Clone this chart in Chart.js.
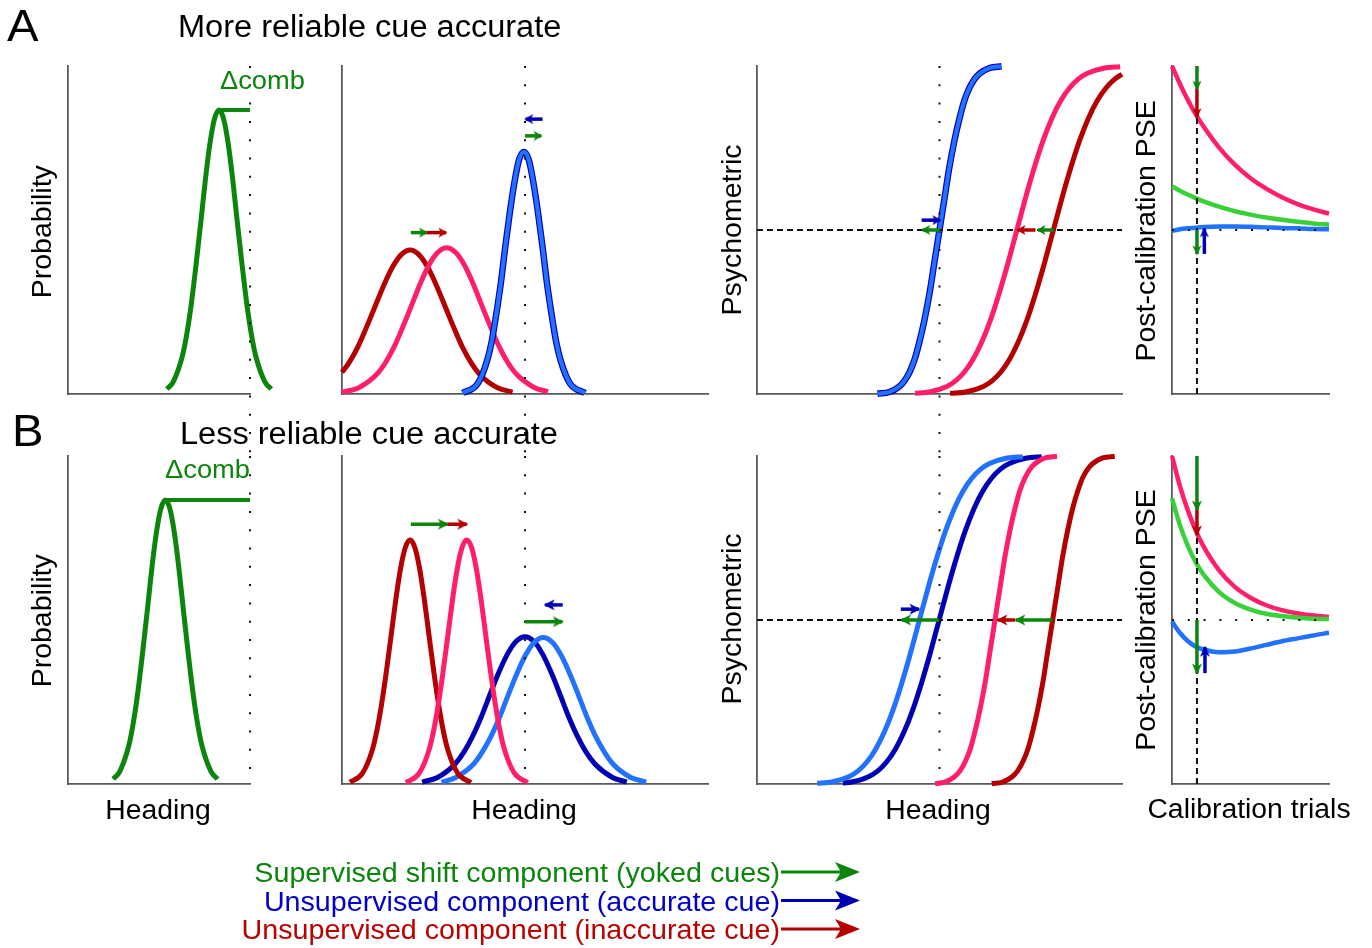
<!DOCTYPE html>
<html>
<head>
<meta charset="utf-8">
<script src="https://cdn.jsdelivr.net/npm/chart.js@4.4.1/dist/chart.umd.min.js"></script>
<style>
html,body{margin:0;padding:0;background:#fff;}
body{width:1372px;height:948px;position:relative;overflow:hidden;}
canvas{position:absolute;}
#txt{position:absolute;left:0;top:0;z-index:5;}
</style>
</head>
<body>
<svg id="txt" width="1372" height="948" font-family="Liberation Sans, Arial, sans-serif" fill="#000">
  <text transform="translate(7,41) scale(1.05,1)" font-size="45">A</text>
  <text transform="translate(178,37) scale(1.05,1)" font-size="31">More reliable cue accurate</text>
  <text transform="translate(12,446) scale(1.05,1)" font-size="45">B</text>
  <text transform="translate(180,444) scale(1.05,1)" font-size="31">Less reliable cue accurate</text>
  <text transform="translate(220,89) scale(1.05,1)" font-size="26" fill="#0b850b">Δcomb</text>
  <text transform="translate(250,478) scale(1.05,1)" font-size="26" fill="#0b850b" text-anchor="end">Δcomb</text>
  <text transform="translate(51,231.7) rotate(-90)" font-size="28.5" text-anchor="middle">Probability</text>
  <text transform="translate(51,620.8) rotate(-90)" font-size="28.5" text-anchor="middle">Probability</text>
  <text transform="translate(741,230) rotate(-90)" font-size="28.5" text-anchor="middle">Psychometric</text>
  <text transform="translate(741,619) rotate(-90)" font-size="28.5" text-anchor="middle">Psychometric</text>
  <text transform="translate(1155,230.8) rotate(-90)" font-size="28.5" text-anchor="middle">Post-calibration PSE</text>
  <text transform="translate(1155,620) rotate(-90)" font-size="28.5" text-anchor="middle">Post-calibration PSE</text>
  <text transform="translate(158,819) scale(1.05,1)" font-size="27" text-anchor="middle">Heading</text>
  <text transform="translate(524,819) scale(1.05,1)" font-size="27" text-anchor="middle">Heading</text>
  <text transform="translate(938,819) scale(1.05,1)" font-size="27" text-anchor="middle">Heading</text>
  <text transform="translate(1249,818) scale(1.05,1)" font-size="27" text-anchor="middle">Calibration trials</text>
  <text transform="translate(780,882) scale(1.05,1)" font-size="27.3" text-anchor="end" fill="#0b850b">Supervised shift component (yoked cues)</text>
  <text transform="translate(780,910.5) scale(1.05,1)" font-size="27.3" text-anchor="end" fill="#0000c8">Unsupervised component (accurate cue)</text>
  <text transform="translate(780,939) scale(1.05,1)" font-size="27.3" text-anchor="end" fill="#bb0000">Unsupervised component (inaccurate cue)</text>
  <g stroke-width="3">
    <line x1="781" y1="872" x2="842" y2="872" stroke="#0b850b"/>
    <polygon points="860,872 835,862 841,872 835,882" fill="#0b850b"/>
    <line x1="781" y1="900.5" x2="842" y2="900.5" stroke="#0000b4"/>
    <polygon points="860,900.5 835,890.5 841,900.5 835,910.5" fill="#0000b4"/>
    <line x1="781" y1="929" x2="842" y2="929" stroke="#b40000"/>
    <polygon points="860,929 835,919 841,929 835,939" fill="#b40000"/>
  </g>
</svg>
<script>
// ---------------- DATA (heading units 0-100, probability / proportion 0-1) ----------------
// Panel 1: combined estimate
const A1_comb = [[54.4,0.015],[57.9,0.038],[62.9,0.117],[65.4,0.187],[67.9,0.281],[70.4,0.396],[73.0,0.525],[75.5,0.654],[78.0,0.764],[80.5,0.839],[83.0,0.866],[85.5,0.839],[88.0,0.764],[90.5,0.654],[93.0,0.525],[95.6,0.396],[98.1,0.281],[100.6,0.187],[103.1,0.117],[108.1,0.038],[111.6,0.015]];
const A1_delta = [[83.0,0.866],[100,0.866]];
const B1_comb = [[24.9,0.015],[28.4,0.038],[33.4,0.117],[35.9,0.187],[38.4,0.281],[40.9,0.396],[43.5,0.525],[46.0,0.654],[48.5,0.764],[51.0,0.839],[53.5,0.866],[56.0,0.839],[58.5,0.764],[61.0,0.654],[63.5,0.525],[66.1,0.396],[68.6,0.281],[71.1,0.187],[73.6,0.117],[78.6,0.038],[82.1,0.015]];
const B1_delta = [[53.5,0.866],[100,0.866]];

// Panel 2: cue likelihoods
const A2_inaccPre = [[0.0,0.066],[1.9,0.095],[4.3,0.143],[6.6,0.201],[9.0,0.266],[11.4,0.331],[13.8,0.387],[16.2,0.425],[18.6,0.439],[21.0,0.425],[23.4,0.387],[25.8,0.331],[28.2,0.266],[30.6,0.201],[32.9,0.143],[35.3,0.095],[37.7,0.059],[42.5,0.019],[46.6,0.006]];
const A2_inaccPost = [[0.0,0.005],[4.7,0.020],[9.5,0.060],[11.9,0.096],[14.3,0.145],[16.6,0.204],[19.0,0.270],[21.4,0.337],[23.8,0.394],[26.2,0.432],[28.6,0.446],[31.0,0.432],[33.4,0.394],[35.8,0.337],[38.2,0.270],[40.6,0.204],[42.9,0.145],[45.3,0.096],[47.7,0.060],[52.5,0.020],[56.3,0.007]];
const A2_acc = [[33.0,0.003],[37.1,0.032],[39.6,0.100],[40.9,0.160],[42.1,0.240],[43.4,0.338],[44.6,0.448],[45.9,0.557],[47.2,0.651],[48.4,0.715],[49.7,0.738],[51.0,0.715],[52.2,0.651],[53.5,0.557],[54.8,0.448],[56.0,0.338],[57.3,0.240],[58.5,0.160],[59.8,0.100],[62.3,0.032],[66.4,0.003]];
const B2_inaccPre = [[2.2,0.005],[5.6,0.033],[8.2,0.101],[9.5,0.161],[10.8,0.242],[12.1,0.341],[13.4,0.451],[14.7,0.562],[16.0,0.657],[17.3,0.721],[18.6,0.744],[19.9,0.721],[21.2,0.657],[22.5,0.562],[23.8,0.451],[25.1,0.341],[26.4,0.242],[27.7,0.161],[29.0,0.101],[31.6,0.033],[35.2,0.004]];
const B2_inaccPost = [[17.5,0.004],[21.1,0.033],[23.7,0.101],[25.0,0.161],[26.3,0.242],[27.6,0.341],[28.9,0.451],[30.2,0.562],[31.5,0.657],[32.8,0.721],[34.1,0.744],[35.4,0.721],[36.7,0.657],[38.0,0.562],[39.3,0.451],[40.6,0.341],[41.9,0.242],[43.2,0.161],[44.5,0.101],[47.1,0.033],[50.7,0.004]];
const B2_accPre = [[21.9,0.006],[26.1,0.020],[30.9,0.061],[33.3,0.097],[35.7,0.146],[38.1,0.206],[40.4,0.272],[42.8,0.339],[45.2,0.396],[47.6,0.435],[50.0,0.449],[52.4,0.435],[54.8,0.396],[57.2,0.339],[59.6,0.272],[61.9,0.206],[64.3,0.146],[66.7,0.097],[69.1,0.061],[73.9,0.020],[77.8,0.006]];
const B2_accPost = [[27.2,0.005],[31.1,0.020],[35.9,0.060],[38.3,0.097],[40.7,0.145],[43.1,0.205],[45.4,0.271],[47.8,0.337],[50.2,0.394],[52.6,0.433],[55.0,0.447],[57.4,0.433],[59.8,0.394],[62.2,0.337],[64.6,0.271],[66.9,0.205],[69.3,0.145],[71.7,0.097],[74.1,0.060],[78.9,0.020],[83.1,0.006]];

// Panel 3: psychometric functions
const A3_acc = [[33.0,0.001],[36.3,0.006],[39.0,0.023],[40.4,0.040],[41.8,0.067],[43.2,0.106],[44.5,0.159],[45.9,0.227],[47.3,0.309],[48.6,0.401],[50.0,0.500],[51.4,0.599],[52.7,0.691],[54.1,0.773],[55.5,0.841],[56.8,0.894],[58.2,0.933],[59.6,0.960],[61.0,0.977],[63.7,0.994],[67.0,0.999]];
const A3_inaccPost = [[43.3,0.002],[47.2,0.006],[52.0,0.023],[54.4,0.040],[56.8,0.067],[59.2,0.106],[61.6,0.159],[64.0,0.227],[66.4,0.309],[68.8,0.401],[71.2,0.500],[73.6,0.599],[76.0,0.691],[78.4,0.773],[80.8,0.841],[83.2,0.894],[85.6,0.933],[88.0,0.960],[90.4,0.977],[95.2,0.994],[99.5,0.998]];
const A3_inaccPre = [[52.9,0.002],[57.2,0.006],[62.0,0.023],[64.4,0.040],[66.8,0.067],[69.2,0.106],[71.6,0.159],[74.0,0.227],[76.4,0.309],[78.8,0.401],[81.2,0.500],[83.6,0.599],[86.0,0.691],[88.4,0.773],[90.8,0.841],[93.2,0.894],[95.6,0.933],[98.0,0.960],[100.0,0.975]];
const B3_accPost = [[16.5,0.002],[20.5,0.006],[25.3,0.023],[27.7,0.040],[30.1,0.067],[32.5,0.106],[34.9,0.159],[37.3,0.227],[39.7,0.309],[42.1,0.401],[44.5,0.500],[46.9,0.599],[49.3,0.691],[51.7,0.773],[54.1,0.841],[56.5,0.894],[58.9,0.933],[61.3,0.960],[63.7,0.977],[68.5,0.994],[72.8,0.998]];
const B3_accPre = [[23.5,0.003],[25.9,0.006],[30.7,0.023],[33.1,0.040],[35.5,0.067],[37.9,0.106],[40.3,0.159],[42.7,0.227],[45.1,0.309],[47.5,0.401],[49.9,0.500],[52.3,0.599],[54.7,0.691],[57.1,0.773],[59.5,0.841],[61.9,0.894],[64.3,0.933],[66.7,0.960],[69.1,0.977],[73.9,0.994],[78.0,0.998]];
const B3_inaccPost = [[48.8,0.001],[51.5,0.006],[54.2,0.023],[55.6,0.040],[57.0,0.067],[58.4,0.106],[59.7,0.159],[61.1,0.227],[62.5,0.309],[63.8,0.401],[65.2,0.500],[66.6,0.599],[67.9,0.691],[69.3,0.773],[70.7,0.841],[72.0,0.894],[73.4,0.933],[74.8,0.960],[76.2,0.977],[78.9,0.994],[82.2,0.999]];
const B3_inaccPre = [[64.3,0.001],[67.3,0.006],[70.0,0.023],[71.4,0.040],[72.8,0.067],[74.2,0.106],[75.5,0.159],[76.9,0.227],[78.3,0.309],[79.6,0.401],[81.0,0.500],[82.4,0.599],[83.7,0.691],[85.1,0.773],[86.5,0.841],[87.9,0.894],[89.2,0.933],[90.6,0.960],[92.0,0.977],[94.7,0.994],[98.0,0.999]];

// Panel 4: post-calibration PSE vs calibration trials
const trials   = [0, 5, 10, 15, 20, 30, 40, 50, 60, 70, 80, 90, 100];
const A4_inacc = [1.000,0.946,0.897,0.854,0.816,0.751,0.699,0.658,0.626,0.600,0.579,0.563,0.550];
const A4_comb  = [0.633,0.620,0.608,0.597,0.587,0.571,0.557,0.547,0.538,0.531,0.525,0.520,0.516];
const A4_acc   = [0.497,0.502,0.505,0.507,0.509,0.511,0.511,0.510,0.508,0.506,0.505,0.503,0.502];
const B4_inacc = [1.000,0.909,0.835,0.774,0.725,0.651,0.601,0.568,0.545,0.530,0.520,0.514,0.509];
const B4_comb  = [0.871,0.790,0.727,0.677,0.639,0.585,0.552,0.532,0.519,0.512,0.507,0.504,0.503];
const B4_acc   = [0.495,0.461,0.436,0.419,0.410,0.402,0.404,0.413,0.424,0.435,0.444,0.453,0.461];

// Reference values
const TRUE_HEADING_P1 = 100, TRUE_HEADING = 50, PSE_LEVEL = 0.5, CALIB_TRIAL = 15.9;
const GAP_BELOW = -0.19;   // reference line continues into the gap between rows
const A4_dashTop = 0.845, B4_dashTop = 0.759;

// Arrows: [component, x0, y0, x1(tip), y1(tip)]
const A2_arrows = [['acc',54.8,0.838,50.2,0.838],['sup',50.0,0.787,54.4,0.787],['sup',18.8,0.492,23.1,0.492],['inacc',23.1,0.492,28.4,0.492]];
const A3_arrows = [['acc',45.1,0.530,50.1,0.530],['sup',50.1,0.5,45.4,0.5],['inacc',76.3,0.5,71.5,0.5],['sup',81.4,0.5,77.0,0.5]];
const A4_arrows = [['sup',15.9,1.0,15.9,0.929],['inacc',15.9,0.929,15.9,0.845],['sup',15.9,0.5,15.9,0.427],['acc',20.6,0.427,20.6,0.504]];
const B2_arrows = [['sup',18.8,0.792,28.8,0.792],['inacc',28.8,0.792,34.1,0.792],['acc',60.3,0.546,55.5,0.546],['sup',50.0,0.495,60.2,0.495]];
const B3_arrows = [['acc',39.4,0.533,44.4,0.533],['sup',49.9,0.5,39.6,0.5],['inacc',70.7,0.5,66.0,0.5],['sup',81.0,0.5,70.9,0.5]];
const B4_arrows = [['sup',15.9,1.0,15.9,0.835],['inacc',15.9,0.835,15.9,0.759],['sup',15.9,0.5,15.9,0.338],['acc',21.0,0.338,21.0,0.417]];

// ---------------- STYLE ----------------
const COL = {sup:'#0b850b', acc:'#0000b4', inacc:'#b40000', accPost:'#2272ff', inaccPost:'#ff1f68', comb:'#3ad03a', axis:'#5a5a5a', ref:'#111111'};

const pts = a => a.map(p => ({x:p[0], y:p[1]}));
const ptsXY = (xs, ys) => xs.map((x,i) => ({x, y:ys[i]}));

const headCache = {};
function getHead(kind, L, W){
  const key = kind + L + '_' + W;
  if (headCache[key]) return headCache[key];
  const c = document.createElement('canvas');
  c.width = 2*Math.ceil(L + 3); c.height = 2*Math.ceil(W/2 + 2);
  const g = c.getContext('2d');
  const cx = c.width/2, cy = c.height/2, tip = cx + 1.5;
  g.fillStyle = COL[kind];
  g.beginPath();
  g.moveTo(tip, cy); g.lineTo(tip - L, cy - W/2); g.lineTo(tip - 0.75*L, cy); g.lineTo(tip - L, cy + W/2);
  g.closePath(); g.fill();
  headCache[key] = c; return c;
}
function curve(data, color, width){
  return {data, borderColor:color, borderWidth:width, cubicInterpolationMode:'monotone', pointRadius:0};
}
function refLine(data, dash, width){
  return {data, borderColor:COL.ref, borderWidth:width, borderDash:dash, borderCapStyle:'butt', pointRadius:0};
}
function arrows(list, L, W, lw){
  return list.map(([k,x0,y0,x1,y1]) => {
    const rot = x1 !== x0 ? (x1 > x0 ? 0 : 180) : (y1 > y0 ? -90 : 90);
    return {data:[{x:x0,y:y0},{x:x1,y:y1}], borderColor:COL[k], borderWidth:lw, borderCapStyle:'butt',
            pointRadius:[0,4], pointStyle:getHead(k, L, W), pointRotation:rot};
  });
}

function makeChart(p, datasets){
  const W = p.w + p.pl + p.pr, H = p.h + p.pt + p.pb;
  const cv = document.createElement('canvas');
  cv.width = W; cv.height = H;
  cv.style.left = (p.left - p.pl) + 'px'; cv.style.top = (p.top - p.pt) + 'px';
  cv.style.width = W + 'px'; cv.style.height = H + 'px';
  document.body.insertBefore(cv, document.getElementById('txt'));
  const n = datasets.length;
  datasets.forEach((d, i) => { d.order = n - i; d.clip = false; d.fill = false; d.pointHoverRadius = 0; });
  const axis = (min, max) => ({
    type:'linear', bounds:'data',
    afterDataLimits: s => { s.min = min; s.max = max; },
    grid:{display:false, drawTicks:false}, ticks:{display:false},
    border:{display:true, color:COL.axis, width:1.8}
  });
  new Chart(cv, {
    type:'line',
    data:{datasets},
    options:{
      responsive:false, animation:false, devicePixelRatio:1, events:[],
      layout:{padding:{left:p.pl, right:p.pr, top:p.pt, bottom:p.pb}},
      elements:{line:{capBezierPoints:false}},
      plugins:{legend:{display:false}, tooltip:{enabled:false}},
      scales:{x:axis(0,100), y:axis(0,1)}
    }
  });
}

// ---------------- LAYOUT ----------------
const P = {
  A1:{left:68,  top:66,  w:182, h:328, pl:20, pr:60, pt:20, pb:75},
  A2:{left:342, top:66,  w:366, h:328, pl:20, pr:20, pt:20, pb:75},
  A3:{left:757, top:66,  w:365, h:328, pl:20, pr:20, pt:20, pb:75},
  A4:{left:1172,top:66,  w:157, h:328, pl:20, pr:20, pt:20, pb:20},
  B1:{left:68,  top:456, w:182, h:328, pl:20, pr:60, pt:20, pb:20},
  B2:{left:342, top:456, w:366, h:328, pl:20, pr:20, pt:20, pb:20},
  B3:{left:757, top:456, w:365, h:328, pl:20, pr:20, pt:20, pb:20},
  B4:{left:1172,top:456, w:157, h:328, pl:20, pr:20, pt:20, pb:20}
};
const DOT_V = [2, 16.3], DOT_H = [2, 13.8], DASH = [6, 4];

makeChart(P.A1, [
  curve(pts(A1_comb), COL.sup, 5),
  curve(pts(A1_delta), COL.sup, 4),
  refLine([{x:TRUE_HEADING_P1,y:1},{x:TRUE_HEADING_P1,y:GAP_BELOW}], DOT_V, 2)
]);
makeChart(P.B1, [
  curve(pts(B1_comb), COL.sup, 5),
  curve(pts(B1_delta), COL.sup, 4),
  refLine([{x:TRUE_HEADING_P1,y:1},{x:TRUE_HEADING_P1,y:0}], DOT_V, 2)
]);
makeChart(P.A2, [
  curve(pts(A2_inaccPre), COL.inacc, 5),
  curve(pts(A2_inaccPost), COL.inaccPost, 5),
  curve(pts(A2_acc), COL.acc, 6.5),
  curve(pts(A2_acc), COL.accPost, 4.2),
  refLine([{x:TRUE_HEADING,y:1},{x:TRUE_HEADING,y:GAP_BELOW}], DOT_V, 2),
  ...arrows(A2_arrows, 9, 10, 3.5)
]);
makeChart(P.B2, [
  curve(pts(B2_accPre), COL.acc, 5),
  curve(pts(B2_accPost), COL.accPost, 5),
  curve(pts(B2_inaccPre), COL.inacc, 5),
  curve(pts(B2_inaccPost), COL.inaccPost, 5),
  refLine([{x:TRUE_HEADING,y:1},{x:TRUE_HEADING,y:0}], DOT_V, 2),
  ...arrows(B2_arrows, 11, 11, 3.5)
]);
makeChart(P.A3, [
  curve(pts(A3_inaccPre), COL.inacc, 5),
  curve(pts(A3_inaccPost), COL.inaccPost, 5),
  curve(pts(A3_acc), COL.acc, 6.5),
  curve(pts(A3_acc), COL.accPost, 4.2),
  refLine([{x:TRUE_HEADING,y:1},{x:TRUE_HEADING,y:GAP_BELOW}], DOT_V, 2),
  refLine([{x:0,y:PSE_LEVEL},{x:100,y:PSE_LEVEL}], DASH, 2),
  ...arrows(A3_arrows, 9, 10, 3.5)
]);
makeChart(P.B3, [
  curve(pts(B3_accPre), COL.acc, 5),
  curve(pts(B3_accPost), COL.accPost, 5),
  curve(pts(B3_inaccPre), COL.inacc, 5),
  curve(pts(B3_inaccPost), COL.inaccPost, 5),
  refLine([{x:TRUE_HEADING,y:1},{x:TRUE_HEADING,y:0}], DOT_V, 2),
  refLine([{x:0,y:PSE_LEVEL},{x:100,y:PSE_LEVEL}], DASH, 2),
  ...arrows(B3_arrows, 11, 11, 3.5)
]);
makeChart(P.A4, [
  curve(ptsXY(trials, A4_inacc), COL.inaccPost, 4.5),
  curve(ptsXY(trials, A4_comb), COL.comb, 4.5),
  curve(ptsXY(trials, A4_acc), COL.accPost, 4.5),
  refLine([{x:0,y:PSE_LEVEL},{x:100,y:PSE_LEVEL}], DOT_H, 2),
  refLine([{x:CALIB_TRIAL,y:0},{x:CALIB_TRIAL,y:A4_dashTop}], DASH, 2),
  ...arrows(A4_arrows, 10, 9, 3.5)
]);
makeChart(P.B4, [
  curve(ptsXY(trials, B4_inacc), COL.inaccPost, 4.5),
  curve(ptsXY(trials, B4_comb), COL.comb, 4.5),
  curve(ptsXY(trials, B4_acc), COL.accPost, 4.5),
  refLine([{x:0,y:PSE_LEVEL},{x:100,y:PSE_LEVEL}], DOT_H, 2),
  refLine([{x:CALIB_TRIAL,y:0},{x:CALIB_TRIAL,y:B4_dashTop}], DASH, 2),
  ...arrows(B4_arrows, 11, 10, 3.5)
]);
</script>
</body>
</html>
